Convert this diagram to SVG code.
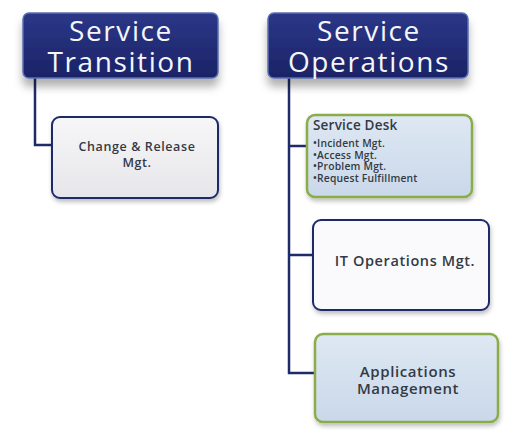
<svg xmlns="http://www.w3.org/2000/svg" width="509" height="433" viewBox="0 0 509 433">
<defs>
<linearGradient id="navy" x1="0" y1="0" x2="0" y2="1">
<stop offset="0" stop-color="#2b3788"/>
<stop offset="1" stop-color="#1b2366"/>
</linearGradient>
<linearGradient id="grey" x1="0" y1="0" x2="0" y2="1">
<stop offset="0" stop-color="#f7f7f8"/>
<stop offset="1" stop-color="#e6e6ea"/>
</linearGradient>
<linearGradient id="blue" x1="0" y1="0" x2="0" y2="1">
<stop offset="0" stop-color="#dfe8f3"/>
<stop offset="1" stop-color="#c9d8ea"/>
</linearGradient>
<filter id="sh" x="-10%" y="-10%" width="125%" height="145%">
<feDropShadow dx="0" dy="8" stdDeviation="4" flood-color="#000" flood-opacity="0.3"/>
</filter>
<filter id="sh2" x="-10%" y="-10%" width="125%" height="130%">
<feDropShadow dx="1" dy="3" stdDeviation="2" flood-color="#000" flood-opacity="0.25"/>
</filter>
</defs>
<style>
.hdr{fill:url(#navy);stroke:#5a6fb0;stroke-width:1.5;filter:url(#sh)}
.ht{font-family:"Open Sans","Liberation Sans",sans-serif;font-size:28px;letter-spacing:1.6px;fill:#f4f6fb;text-anchor:middle}
.gbox{fill:url(#grey);stroke:#1f2a6b;stroke-width:2;filter:url(#sh2)}
.bbox{fill:url(#blue);stroke:#8aad4a;stroke-width:2.5;filter:url(#sh2)}
.t{font-family:"Open Sans","Liberation Sans",sans-serif;font-weight:600;fill:#333a44;text-anchor:middle;letter-spacing:0.6px}
.st{font-family:"Open Sans","Liberation Sans",sans-serif;font-weight:600;fill:#333a44;letter-spacing:0.2px}
.conn{fill:none;stroke:#1f2a6b;stroke-width:2.5}
</style>
<g id="connectors">
<path class="conn" d="M35,78 V145 H54"/>
<path class="conn" d="M289,78 V373 H316 M289,146 H308 M289,255 H314"/>
</g>
<g id="service-transition">
<rect class="hdr" x="23" y="13" width="195" height="65" rx="6"/>
<text class="ht" x="121" y="41">Service</text>
<text class="ht" x="121" y="72">Transition</text>
</g>
<g id="service-operations">
<rect class="hdr" x="268" y="13" width="200" height="65" rx="6"/>
<text class="ht" x="369" y="41">Service</text>
<text class="ht" x="369" y="72">Operations</text>
</g>
<g id="change-release">
<rect class="gbox" x="52" y="117" width="166" height="81" rx="8"/>
<text class="t" x="137" y="151" font-size="12.5">Change &amp; Release</text>
<text class="t" x="137" y="167" font-size="12.5">Mgt.</text>
</g>
<g id="service-desk">
<rect class="bbox" x="307" y="115" width="165" height="82" rx="8"/>
<text class="st" x="313" y="130" font-size="13.5">Service Desk</text>
<text class="st" x="313" y="147" font-size="10.3">•Incident Mgt.</text>
<text class="st" x="313" y="158.5" font-size="10.3">•Access Mgt.</text>
<text class="st" x="313" y="170" font-size="10.3">•Problem Mgt.</text>
<text class="st" x="313" y="181.5" font-size="10.3">•Request Fulfillment</text>
</g>
<g id="it-operations">
<rect class="gbox" x="313" y="220" width="176" height="90" rx="8" style="fill:#fafafc"/>
<text class="t" x="405" y="266" font-size="14.5">IT Operations Mgt.</text>
</g>
<g id="applications">
<rect class="bbox" x="315" y="334" width="183" height="88" rx="8"/>
<text class="t" x="408" y="377" font-size="15">Applications</text>
<text class="t" x="408" y="394" font-size="15">Management</text>
</g>
</svg>
